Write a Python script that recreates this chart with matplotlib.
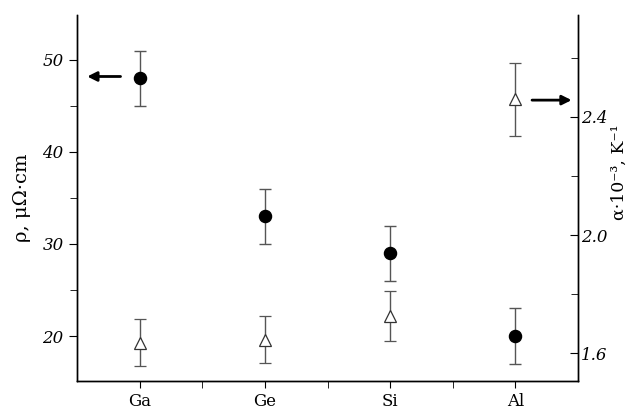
import matplotlib
matplotlib.use('Agg')
import matplotlib.pyplot as plt
import numpy as np
from matplotlib.ticker import MultipleLocator

# data
elements = ['Ga', 'Ge', 'Si', 'Al']
rho = [48, 33, 29, 20]          # resistivity, uOhm*cm (left axis)
rho_err = [3, 3, 3, 3]
alpha = [1.635, 1.645, 1.725, 2.46]   # TCR x1e-3, 1/K (right axis)
alpha_err = [0.08, 0.08, 0.085, 0.124]

plt.rcParams['font.family'] = ['DejaVu Serif']

fig = plt.figure(figsize=(6.36, 4.12), dpi=100)
ax = fig.add_axes([0.121, 0.075, 0.788, 0.889])
ax2 = ax.twinx()

x = np.arange(len(elements))
err_col = '#555555'

ax.errorbar(x, rho, yerr=rho_err, fmt='o', color='black', ms=8.7,
            ecolor=err_col, elinewidth=1.0, capsize=4, capthick=1.0, zorder=3)
ax2.errorbar(x, alpha, yerr=alpha_err, fmt='^', mfc='white', mec='#333333',
             mew=0.9, ms=8.8, ecolor=err_col, elinewidth=1.0, capsize=4,
             capthick=1.0, zorder=3)

ax.set_xlim(-0.5, 3.5)
ax.set_ylim(15.1, 54.9)
ax2.set_ylim(1.505, 2.746)

ax.set_xticks(x)
ax.set_xticklabels(elements, fontsize=12)
ax.set_xticks([0.5, 1.5, 2.5], minor=True)

ax.yaxis.set_major_locator(MultipleLocator(10))
ax.yaxis.set_minor_locator(MultipleLocator(5))
ax2.yaxis.set_minor_locator(MultipleLocator(0.2))
ax2.set_yticks([1.6, 2.0, 2.4])
ax2.set_yticklabels(['1.6', '2.0', '2.4'])

for a in (ax, ax2):
    a.spines['top'].set_visible(False)
    for s in a.spines.values():
        s.set_linewidth(1.0)

ax.tick_params(axis='y', which='major', direction='out', length=6, labelsize=12)
ax.tick_params(axis='y', which='minor', direction='out', length=5)
ax.tick_params(axis='x', which='both', direction='out', length=5)
ax2.tick_params(axis='y', which='major', direction='in', length=6, labelsize=12, pad=2)
ax2.tick_params(axis='y', which='minor', direction='in', length=5)
for lab in ax.get_yticklabels() + ax2.get_yticklabels():
    lab.set_fontstyle('italic')

ax.set_ylabel('ρ, μΩ·cm', fontsize=14, labelpad=8)
ax2.set_ylabel('α·10⁻³, K⁻¹', fontsize=12.5, va='center')
ax2.yaxis.set_label_coords(1.083, 0.571)

# arrows showing which axis each series belongs to
ax.annotate('', xy=(-0.44, 48.2), xytext=(-0.13, 48.2),
            arrowprops=dict(arrowstyle='-|>', color='black', lw=2, mutation_scale=14))
ax2.annotate('', xy=(3.47, 2.457), xytext=(3.11, 2.457),
             arrowprops=dict(arrowstyle='-|>', color='black', lw=2, mutation_scale=14))

fig.savefig('out.png', dpi=100)
